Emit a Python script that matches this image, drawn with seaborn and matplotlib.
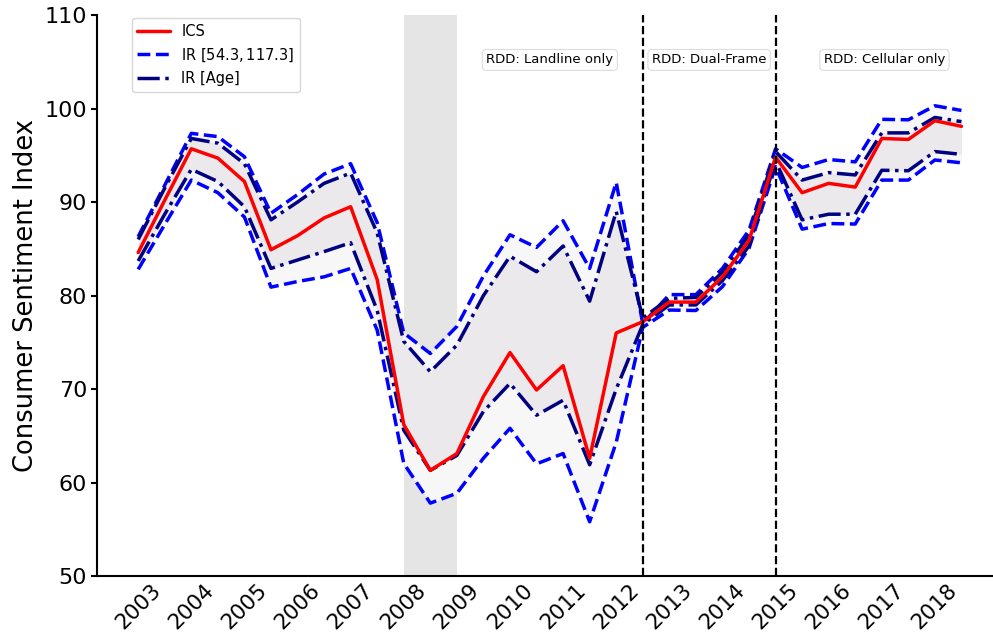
import numpy as np
import matplotlib
matplotlib.use("Agg")
import matplotlib.pyplot as plt
import seaborn as sns

# half-year periods, 2003 to 2018
periods = np.arange(2003, 2019, 0.5)
year_ticks = list(range(2003, 2019))

ics = [84.6, 90.2, 95.7, 94.7, 92.2, 84.9, 86.4, 88.3, 89.5, 81.7,
       66.2, 61.3, 63.1, 69.2, 73.9, 69.9, 72.5, 62.6, 76.0, 77.2,
       79.3, 79.3, 82.0, 85.9, 94.8, 91.0, 92.0, 91.6, 96.8, 96.7,
       98.7, 98.1]
ir_hi = [86.3, 91.8, 97.35, 97.0, 94.85, 88.8, 90.8, 93.0, 94.1, 87.8,
         76.0, 73.8, 76.7, 82.1, 86.5, 85.15, 88.0, 82.9, 92.1, 77.0,
         80.1, 80.1, 82.9, 87.0, 95.7, 93.7, 94.55, 94.3, 98.85, 98.8,
         100.3, 99.8]
ir_lo = [82.8, 87.6, 92.35, 91.0, 88.4, 80.9, 81.5, 82.0, 82.9, 76.3,
         62.05, 57.8, 58.85, 62.6, 65.8, 62.0, 63.1, 55.8, 64.3, 76.6,
         78.45, 78.4, 80.95, 85.05, 93.8, 87.1, 87.7, 87.65, 92.35, 92.35,
         94.5, 94.2]
age_hi = [86.0, 91.5, 96.8, 96.3, 94.1, 88.1, 90.0, 92.0, 93.1, 86.7,
          75.1, 71.85, 74.7, 80.0, 84.2, 82.55, 85.3, 79.4, 89.0, 77.6,
          79.7, 79.8, 82.5, 86.5, 95.4, 92.35, 93.15, 92.9, 97.4, 97.4,
          99.05, 98.6]
age_lo = [83.7, 88.7, 93.5, 92.2, 89.5, 82.9, 83.8, 84.7, 85.65, 78.4,
          65.6, 61.3, 62.9, 67.6, 70.6, 67.2, 68.8, 61.9, 70.0, 76.9,
          79.0, 79.0, 81.6, 85.3, 94.4, 88.1, 88.7, 88.7, 93.4, 93.35,
          95.4, 95.1]

recession = (2008, 2009)
frame_changes = [2012.5, 2015]
frame_labels = ["RDD: Landline only", "RDD: Dual-Frame", "RDD: Cellular only"]
frame_label_x = [2010.75, 2013.75, 2017.05]

sns.set_style("ticks")
plt.rcParams["font.family"] = ["DejaVu Sans"]
plt.rcParams["text.color"] = "black"
plt.rcParams["xtick.color"] = "black"
plt.rcParams["ytick.color"] = "black"
plt.rcParams["axes.labelcolor"] = "black"

fig = plt.figure(figsize=(9.93, 6.36), dpi=100)
ax = fig.add_axes([0.0977, 0.0943, 0.912, 0.882])

# shaded intervals
ax.fill_between(periods, ir_lo, ir_hi, color="#f7f7f7", lw=0, zorder=1)
ax.fill_between(periods, age_lo, age_hi, color="#ece9ec", lw=0, zorder=1.5)
ax.axvspan(*recession, color="gray", alpha=0.2, lw=0, zorder=0.5)

sns.lineplot(x=periods, y=ics, color="red", lw=2.5, label="ICS", ax=ax, zorder=4)
sns.lineplot(x=periods, y=ir_hi, color="blue", lw=2.5, linestyle="--",
             label=r"IR $[54.3, 117.3]$", ax=ax, zorder=3)
sns.lineplot(x=periods, y=ir_lo, color="blue", lw=2.5, linestyle="--", ax=ax, zorder=3)
sns.lineplot(x=periods, y=age_hi, color="navy", lw=2.5, linestyle="-.",
             label="IR [Age]", ax=ax, zorder=3)
sns.lineplot(x=periods, y=age_lo, color="navy", lw=2.5, linestyle="-.", ax=ax, zorder=3)

for xc in frame_changes:
    ax.axvline(xc, color="black", linestyle="--", lw=1.6, zorder=5)

for lab, xt in zip(frame_labels, frame_label_x):
    ax.text(xt, 105.2, lab, ha="center", va="center", fontsize=9.5,
            bbox=dict(boxstyle="round,pad=0.3", fc="white", ec="#dddddd", lw=0.8))

ax.set_ylim(50, 110)
ax.set_yticks(range(50, 111, 10))
ax.set_xticks(year_ticks)
ax.set_xticklabels([str(y) for y in year_ticks], rotation=45)
ax.tick_params(axis="x", length=0, labelsize=15.5, pad=3)
ax.tick_params(axis="y", length=4, width=1.5, labelsize=16, pad=3)
ax.set_ylabel("Consumer Sentiment Index", fontsize=18.5)
ax.set_xlabel("")
for s in ["left", "bottom"]:
    ax.spines[s].set_linewidth(1.5)
    ax.spines[s].set_color("black")
sns.despine(ax=ax)

ax.legend(loc="upper left", bbox_to_anchor=(0.035, 1.0), borderaxespad=0.2,
          fontsize=10.5, handlelength=2.2)

fig.savefig("out.png", dpi=100)
